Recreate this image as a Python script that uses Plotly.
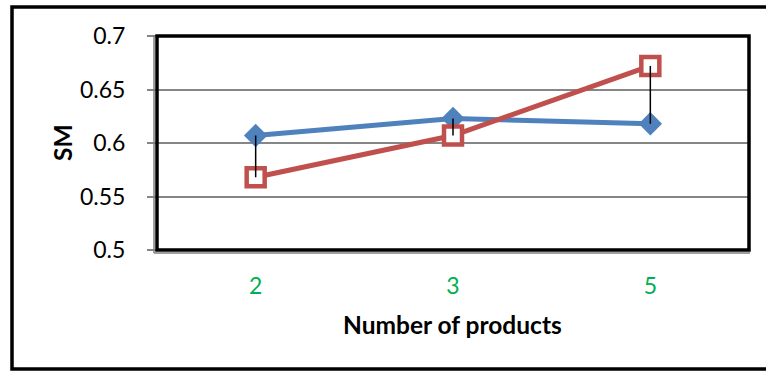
import plotly.graph_objects as go

categories = ["2", "3", "5"]
series_blue = [0.607, 0.623, 0.618]
series_red = [0.568, 0.607, 0.672]
y_ticks = [0.5, 0.55, 0.6, 0.65, 0.7]
y_tick_labels = ["0.5", "0.55", "0.6", "0.65", "0.7"]

FONT = "Lato"
W, H = 766, 372
L, R, T, B = 157, 17, 36, 122
pw, ph = W - L - R, H - T - B

def px_x(x):
    return (x - L) / pw

def px_y(y):
    return (H - B - y) / ph

fig = go.Figure()
fig.add_trace(go.Scatter(
    x=categories, y=series_blue, mode="lines+markers",
    line=dict(color="#4F81BD", width=5),
    marker=dict(symbol="diamond", size=18, color="#4F81BD"),
    showlegend=False, cliponaxis=False))
fig.add_trace(go.Scatter(
    x=categories, y=series_red, mode="lines+markers",
    line=dict(color="#C0504D", width=5),
    marker=dict(symbol="square", size=18, color="white",
                line=dict(width=4.5, color="#C0504D")),
    showlegend=False, cliponaxis=False))
# high-low lines
hx, hy = [], []
for c, a, b in zip(categories, series_blue, series_red):
    hx += [c, c, None]
    hy += [a, b, None]
fig.add_trace(go.Scatter(
    x=hx, y=hy, mode="lines", line=dict(color="black", width=1.5),
    showlegend=False, hoverinfo="skip", cliponaxis=False))

fig.update_xaxes(
    type="category", range=[-0.5, 2.5], showgrid=False, zeroline=False,
    showline=False, ticks="", ticklabelstandoff=20,
    tickfont=dict(family=FONT, size=23, color="#00B050"))
fig.update_yaxes(
    range=[0.5, 0.7], tickvals=y_ticks, ticktext=y_tick_labels,
    showgrid=True, gridcolor="#868686", gridwidth=1.5, zeroline=False,
    showline=False, ticks="outside", ticklen=9, tickcolor="#868686",
    tickwidth=1.5, ticklabelstandoff=17,
    tickfont=dict(family=FONT, size=23, color="black"))

shapes = [
    # outer frame
    dict(type="rect", xref="paper", yref="paper",
         x0=px_x(12), x1=px_x(772), y0=px_y(369), y1=px_y(7),
         line=dict(color="black", width=3.5), layer="below"),
    # plot area shadow (gray) on left/bottom
    dict(type="line", xref="paper", yref="paper",
         x0=px_x(154), x1=px_x(154), y0=px_y(253), y1=px_y(35),
         line=dict(color="#7F7F7F", width=1.5)),
    dict(type="line", xref="paper", yref="paper",
         x0=px_x(154), x1=px_x(750), y0=px_y(253), y1=px_y(253),
         line=dict(color="#7F7F7F", width=1.5)),
    # plot area border
    dict(type="rect", xref="paper", yref="paper",
         x0=0, x1=1, y0=0, y1=1,
         line=dict(color="black", width=3.5)),
]

annotations = [
    dict(text="<b>Number of products</b>", xref="paper", yref="paper",
         x=px_x(452), y=px_y(324), showarrow=False,
         font=dict(family=FONT, size=24.5, color="black"),
         xanchor="center", yanchor="middle"),
    dict(text="<b>SM</b>", xref="paper", yref="paper",
         x=px_x(62), y=px_y(143), showarrow=False, textangle=-90,
         font=dict(family=FONT, size=24.5, color="black"),
         xanchor="center", yanchor="middle"),
]

fig.update_layout(
    width=W, height=H, margin=dict(l=L, r=R, t=T, b=B),
    paper_bgcolor="white", plot_bgcolor="white",
    shapes=shapes, annotations=annotations,
    font=dict(family=FONT),
)

fig.write_html("out.html")
